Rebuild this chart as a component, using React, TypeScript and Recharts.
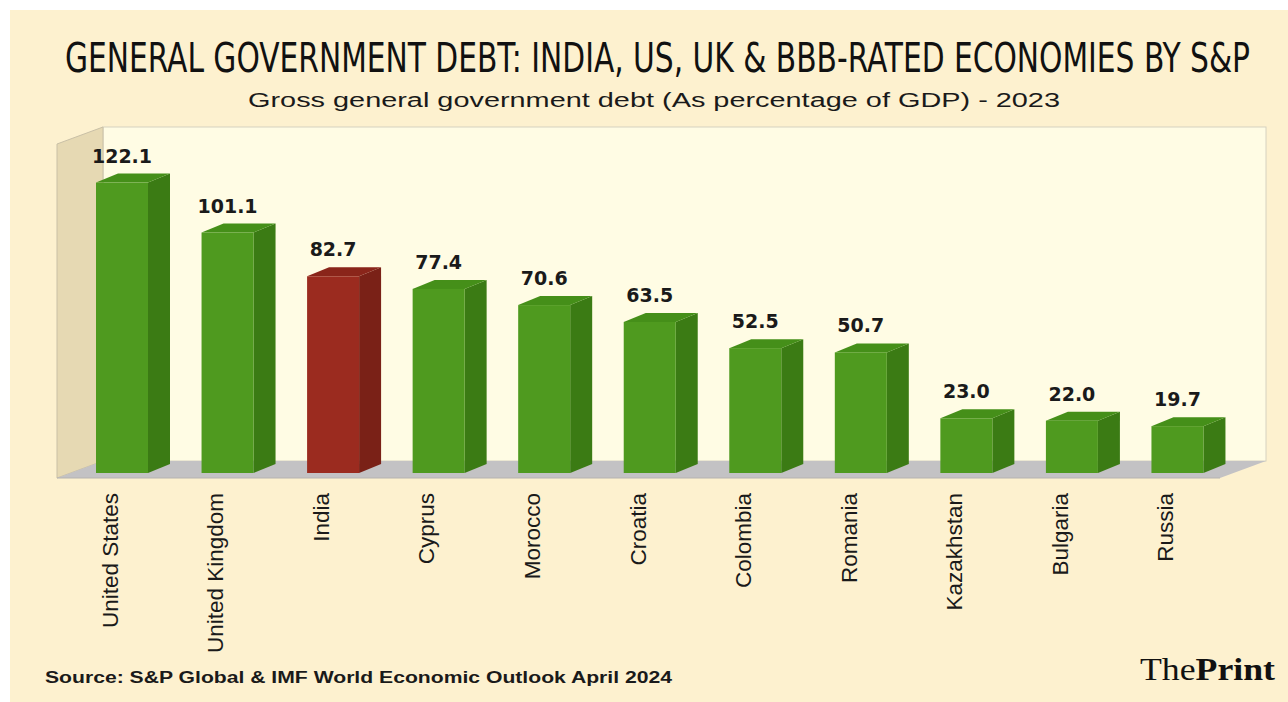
import { BarChart, Bar, XAxis, YAxis, LabelList } from 'recharts';

const countries = [
  'United States',
  'United Kingdom',
  'India',
  'Cyprus',
  'Morocco',
  'Croatia',
  'Colombia',
  'Romania',
  'Kazakhstan',
  'Bulgaria',
  'Russia',
];
const debtPct = [122.1, 101.1, 82.7, 77.4, 70.6, 63.5, 52.5, 50.7, 23.0, 22.0, 19.7];
const highlighted = ['India'];

const chartData = countries.map((name, i) => ({ name, value: debtPct[i] }));

const W = 1288;
const H = 702;

// 3D scene geometry (front plane -> back plane offset)
const DX = 46;
const DY = -17;
const FL = 57; // front left
const FR = 1220; // front right
const FB = 478; // floor front edge
const TOP = 144; // front top of left wall

const green = { front: '#4f9a1f', side: '#3b7b14', top: '#458f19' };
const red = { front: '#9b2b1f', side: '#7a2117', top: '#8a251a' };

function Bar3D(props: any) {
  const { x, y, width, height, payload } = props;
  if (height <= 0) return null;
  const c = highlighted.includes(payload.name) ? red : green;
  const d = 22;
  const e = -9;
  return (
    <g>
      <polygon
        points={`${x + width},${y} ${x + width + d},${y + e} ${x + width + d},${y + height + e} ${x + width},${y + height}`}
        fill={c.side}
      />
      <polygon
        points={`${x},${y} ${x + d},${y + e} ${x + width + d},${y + e} ${x + width},${y}`}
        fill={c.top}
      />
      <rect x={x} y={y} width={width} height={height} fill={c.front} />
    </g>
  );
}

function ValueLabel(props: any) {
  const { x, y, width, value } = props;
  return (
    <text
      x={x + width / 2}
      y={y - 20}
      textAnchor="middle"
      fontFamily="DejaVu Sans, sans-serif"
      fontWeight="bold"
      fontSize={19}
      fill="#1a1a1a"
    >
      {Number(value).toFixed(1)}
    </text>
  );
}

function CountryTick(props: any) {
  const { x, payload } = props;
  const tx = x - 4;
  const ty = 493;
  return (
    <text
      x={tx}
      y={ty}
      transform={`rotate(-90, ${tx}, ${ty})`}
      textAnchor="end"
      fontFamily="Liberation Sans, Arial, sans-serif"
      fontSize={22.5}
      fill="#1a1a1a"
    >
      {payload.value}
    </text>
  );
}

function Backdrop() {
  return (
    <svg width={W} height={H} style={{ position: 'absolute', left: 0, top: 0 }}>
      <rect x={0} y={0} width={W} height={H} fill="#ffffff" />
      <rect x={10} y={10} width={W - 10} height={H - 10} fill="#fdf1cf" />

      {/* back wall */}
      <rect x={FL + DX} y={TOP + DY} width={FR - FL} height={FB - TOP} fill="#fffce4" stroke="#d6d2c0" strokeWidth={1} />
      {/* left wall */}
      <polygon
        points={`${FL},${FB} ${FL},${TOP} ${FL + DX},${TOP + DY} ${FL + DX},${FB + DY}`}
        fill="#e6d9b3"
        stroke="#c9c0a6"
        strokeWidth={1}
      />
      {/* floor */}
      <polygon
        points={`${FL},${FB} ${FR},${FB} ${FR + DX},${FB + DY} ${FL + DX},${FB + DY}`}
        fill="#c3c2c4"
      />
      <line x1={FL} y1={FB} x2={FR} y2={FB} stroke="#b5b3b0" strokeWidth={1} />

      <g transform="translate(65,72) scale(1,1.34)">
        <text
          x={0}
          y={0}
          textLength={1185}
          lengthAdjust="spacingAndGlyphs"
          fontFamily="Liberation Sans Narrow, DejaVu Sans Condensed, sans-serif"
          fontSize={30}
          fill="#111"
        >
          GENERAL GOVERNMENT DEBT: INDIA, US, UK &amp; BBB-RATED ECONOMIES BY S&amp;P
        </text>
      </g>
      <text
        x={248}
        y={107}
        textLength={812}
        lengthAdjust="spacingAndGlyphs"
        fontFamily="Liberation Sans, Arial, sans-serif"
        fontSize={20}
        fill="#1a1a1a"
      >
        Gross general government debt (As percentage of GDP) - 2023
      </text>
      <text
        x={45}
        y={683}
        textLength={627}
        lengthAdjust="spacingAndGlyphs"
        fontFamily="Liberation Sans, Arial, sans-serif"
        fontWeight="bold"
        fontSize={16}
        fill="#1a1a1a"
      >
        Source: S&amp;P Global &amp; IMF World Economic Outlook April 2024
      </text>
      <text
        x={1140}
        y={680}
        textLength={135}
        lengthAdjust="spacingAndGlyphs"
        fontFamily="Liberation Serif, serif"
        fontSize={32}
        fill="#111"
      >
        The<tspan fontWeight="bold">Print</tspan>
      </text>
    </svg>
  );
}

export default function App() {
  return (
    <div style={{ position: 'relative', width: W, height: H, overflow: 'hidden' }}>
      <style>{'body{margin:0}'}</style>
      <Backdrop />
      <div style={{ position: 'absolute', left: 0, top: 0 }}>
        <BarChart
          width={W}
          height={H}
          data={chartData}
          margin={{ top: 140, right: 58, bottom: 199, left: 69 }}
        >
          <XAxis
            dataKey="name"
            interval={0}
            axisLine={false}
            tickLine={false}
            tick={<CountryTick />}
          />
          <YAxis hide domain={[0, 140]} />
          <Bar dataKey="value" barSize={52} shape={<Bar3D />} isAnimationActive={false}>
            <LabelList dataKey="value" content={<ValueLabel />} />
          </Bar>
        </BarChart>
      </div>
    </div>
  );
}
